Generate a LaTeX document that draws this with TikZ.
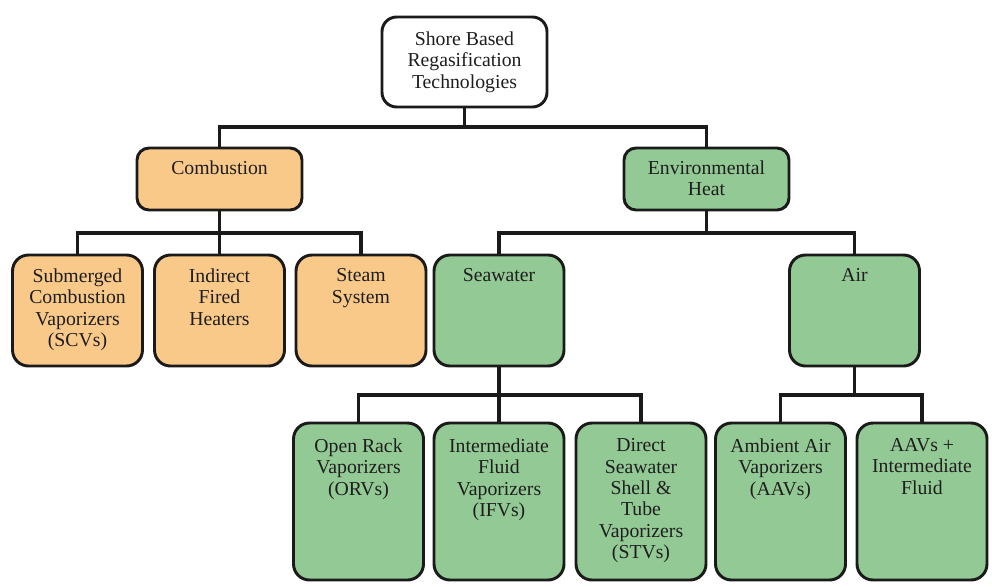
\documentclass[tikz,border=0pt]{standalone}
\usepackage{fontspec}
\setmainfont{Liberation Serif}
\newfontfamily\labelfont{Liberation Serif}
\definecolor{boxline}{HTML}{1A1A1A}
\definecolor{ink}{HTML}{1E1E1E}
\definecolor{fuelfill}{HTML}{F9C98A}
\definecolor{envfill}{HTML}{93C994}
\begin{document}
\begin{tikzpicture}[x=0.75pt,y=-0.75pt,
  box/.style={draw=boxline, line width=2.2pt, inner sep=0pt},
  plainbox/.style={box, fill=white, rounded corners=11pt, minimum width=123.75pt, minimum height=67.5pt},
  headbox/.style={box, rounded corners=9pt, minimum width=123.75pt, minimum height=46.5pt},
  midbox/.style={box, rounded corners=12pt, minimum width=97.5pt, minimum height=83.25pt},
  lowbox/.style={box, rounded corners=12pt, minimum width=97.5pt, minimum height=117.75pt},
  fuel/.style={fill=fuelfill},
  envr/.style={fill=envfill},
  txt/.style={anchor=north, align=center, inner sep=0pt, text=ink,
    font=\labelfont\fontsize{14.8}{16.1}\selectfont},
  link/.style={draw=boxline, line width=2.4pt}
]
\useasboundingbox (0,0) rectangle (992,586);

% boxes
\node[plainbox] (root) at (464.5,62) {};
\node[headbox,fuel] (comb) at (219.5,179) {};
\node[headbox,envr] (env) at (706.5,179) {};
\node[midbox,fuel] (scv) at (77.5,310.5) {};
\node[midbox,fuel] (ifh) at (219.5,310.5) {};
\node[midbox,fuel] (steam) at (361,310.5) {};
\node[midbox,envr] (sea) at (499,310.5) {};
\node[midbox,envr] (air) at (854.5,310.5) {};
\node[lowbox,envr] (orv) at (358.5,501.5) {};
\node[lowbox,envr] (ifv) at (499,501.5) {};
\node[lowbox,envr] (stv) at (641,501.5) {};
\node[lowbox,envr] (aav) at (780.5,501.5) {};
\node[lowbox,envr] (aif) at (922,501.5) {};

% labels
\node[txt] (root-t) at ([yshift=-12pt]root.north) {Shore Based\\Regasification\\Technologies};
\node[txt] (comb-t) at ([yshift=-10.2pt]comb.north) {Combustion};
\node[txt] (env-t) at ([yshift=-10.2pt]env.north) {Environmental\\Heat};
\node[txt] (scv-t) at ([yshift=-11pt]scv.north) {Submerged\\Combustion\\Vaporizers\\(SCVs)};
\node[txt] (ifh-t) at ([yshift=-11pt]ifh.north) {Indirect\\Fired\\Heaters};
\node[txt] (steam-t) at ([yshift=-11pt]steam.north) {Steam\\System};
\node[txt] (sea-t) at ([yshift=-11pt]sea.north) {Seawater};
\node[txt] (air-t) at ([yshift=-11pt]air.north) {Air};
\node[txt] (orv-t) at ([yshift=-12.5pt]orv.north) {Open Rack\\Vaporizers\\(ORVs)};
\node[txt] (ifv-t) at ([yshift=-12.5pt]ifv.north) {Intermediate\\Fluid\\Vaporizers\\(IFVs)};
\node[txt] (stv-t) at ([yshift=-12.5pt]stv.north) {Direct\\Seawater\\Shell \&\\Tube\\Vaporizers\\(STVs)};
\node[txt] (aav-t) at ([yshift=-12.5pt]aav.north) {Ambient Air\\Vaporizers\\(AAVs)};
\node[txt] (aif-t) at ([yshift=-12.5pt]aif.north) {AAVs +\\Intermediate\\Fluid};

% branch points
\coordinate (j0) at (464.5,127);
\coordinate (j1) at (219.5,233);
\coordinate (j2) at (706.5,233);
\coordinate (j3) at (499,395);
\coordinate (j4) at (854.5,395);

% connectors
\draw[link] (root.south) -- (j0);
\draw[link] (comb.north) |- (j0) -| (env.north);
\draw[link] (comb.south) -- (ifh.north);
\draw[link] (scv.north) |- (j1) -| (steam.north);
\draw[link] (env.south) -- (j2);
\draw[link] (sea.north) |- (j2) -| (air.north);
\draw[link] (sea.south) -- (ifv.north);
\draw[link] (orv.north) |- (j3) -| (stv.north);
\draw[link] (air.south) -- (j4);
\draw[link] (aav.north) |- (j4) -| (aif.north);
\end{tikzpicture}
\end{document}
